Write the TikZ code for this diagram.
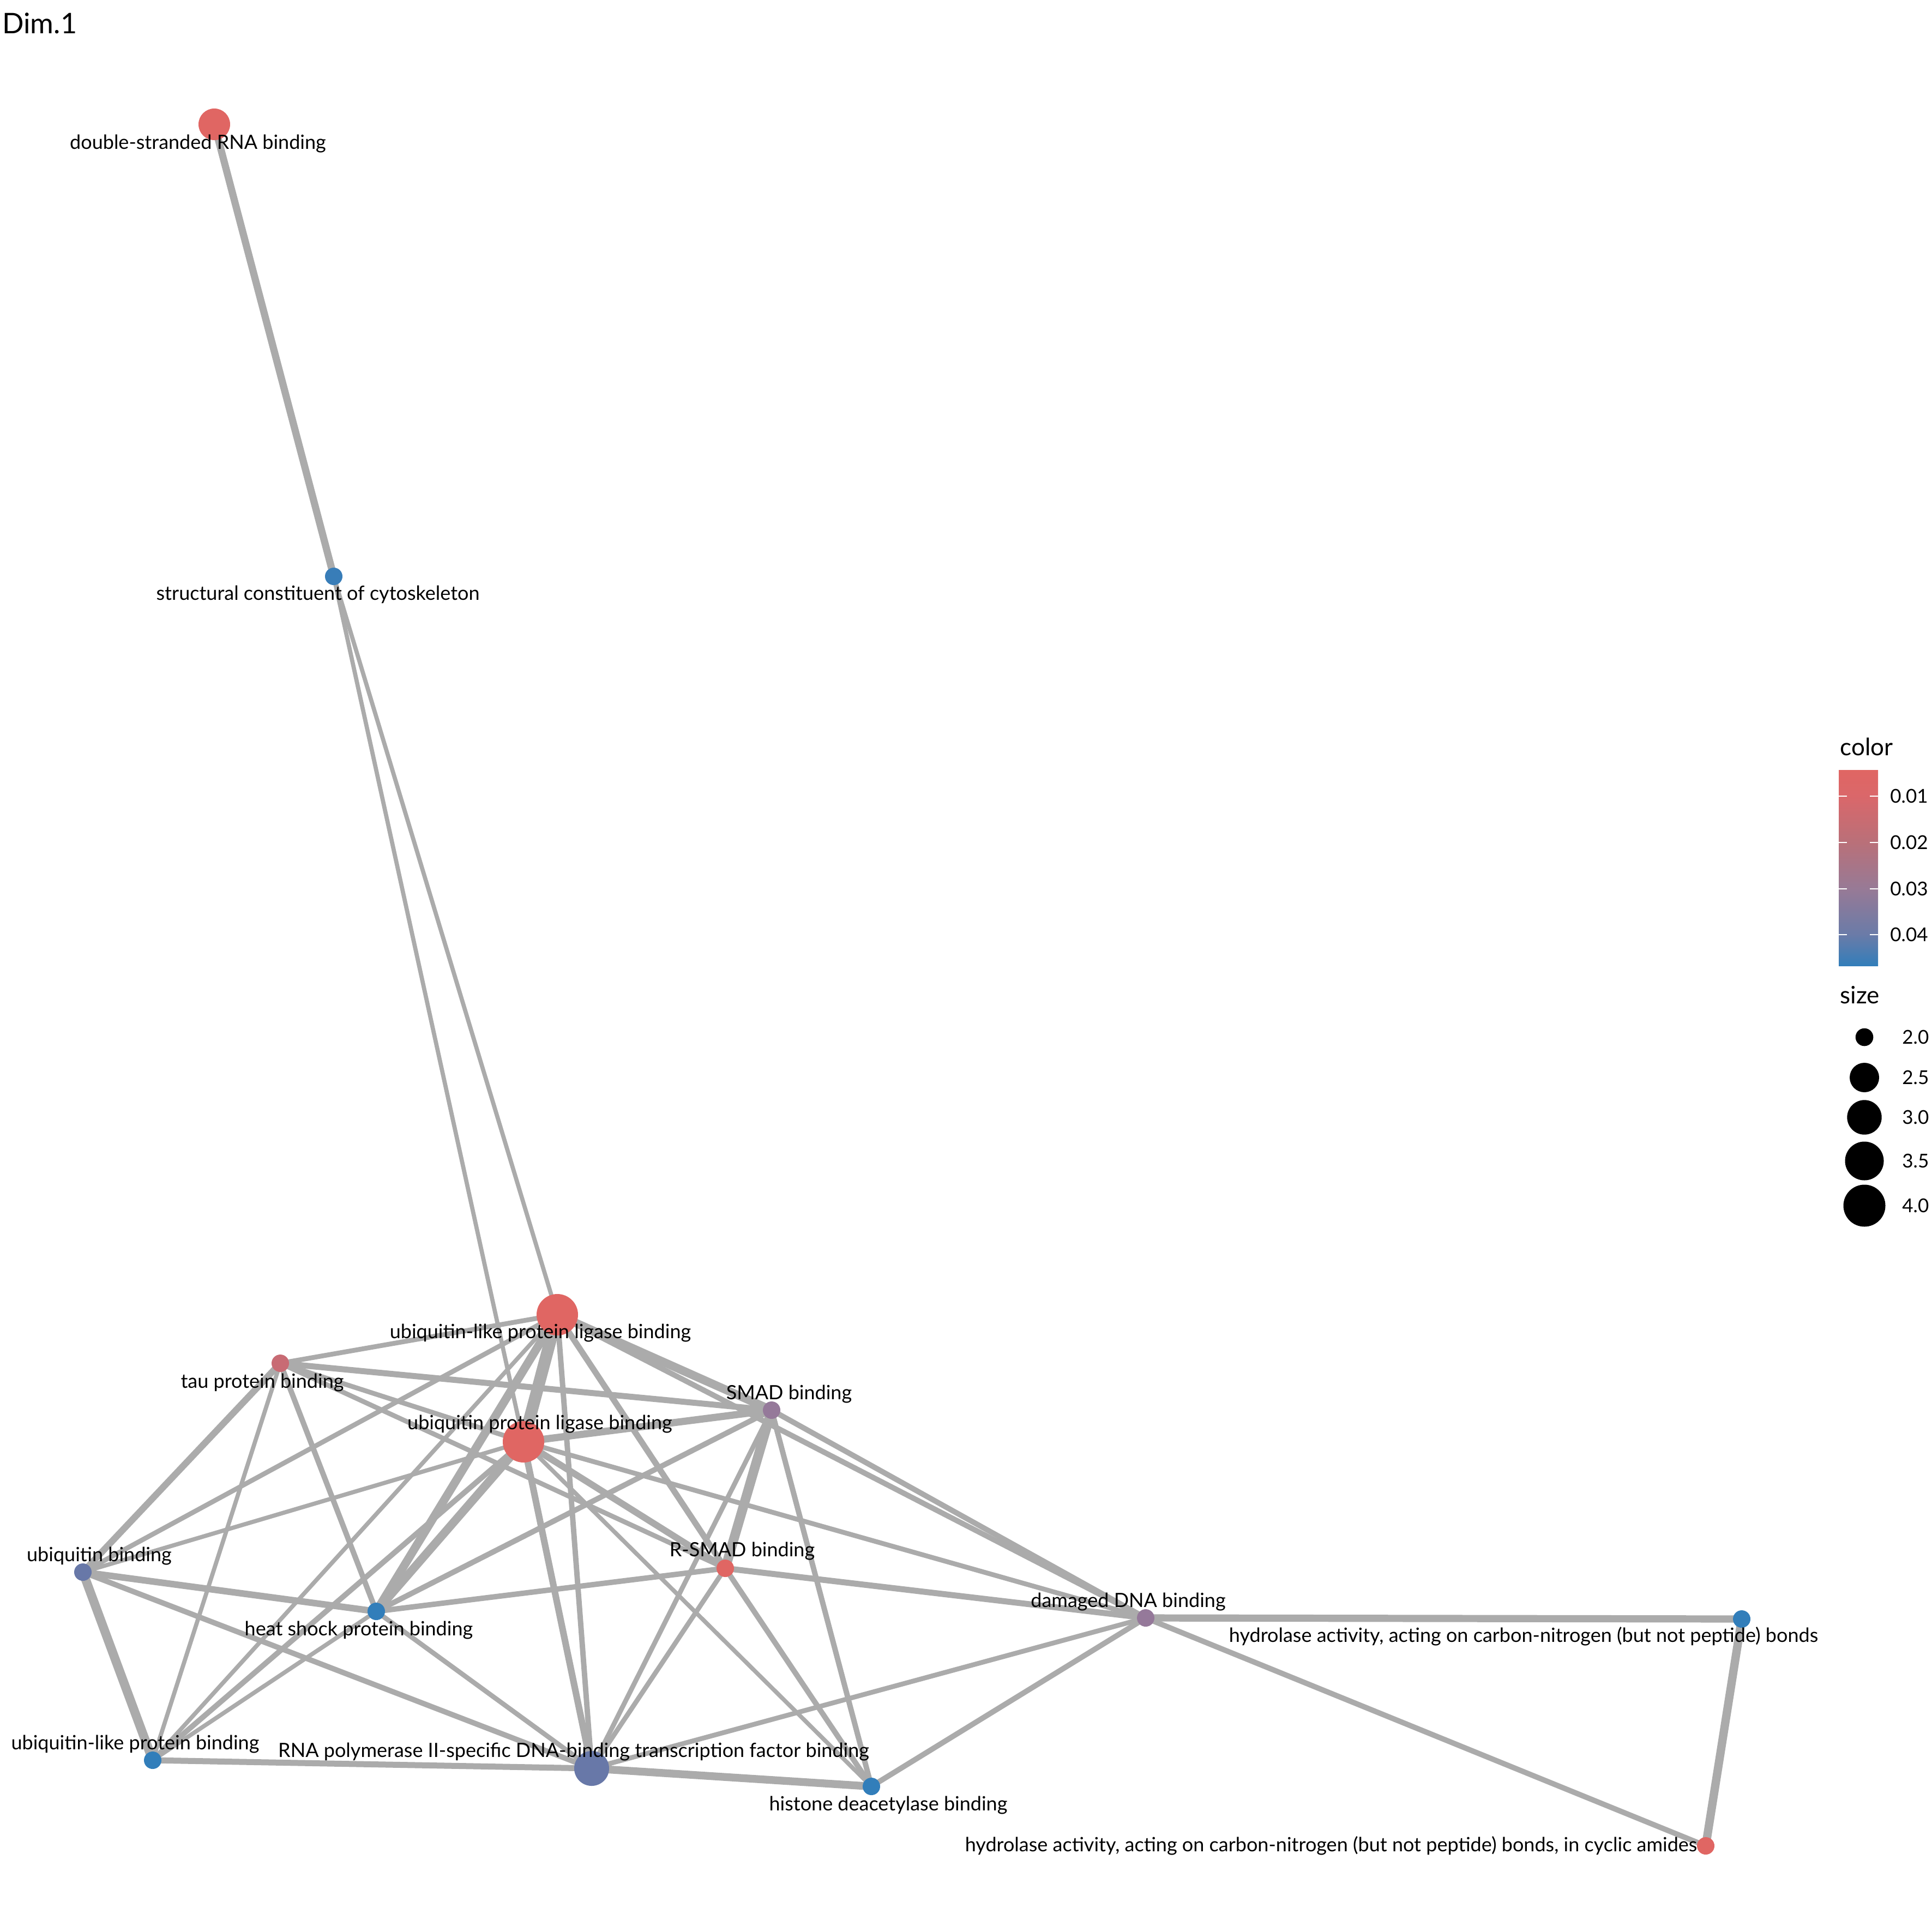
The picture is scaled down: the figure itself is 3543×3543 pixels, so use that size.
\documentclass[tikz,border=0pt]{standalone}
\usepackage{fontspec}
\setmainfont{Lato}
\definecolor{cred}{HTML}{E06663}
\definecolor{cblue}{HTML}{327EBA}
\definecolor{ctau}{HTML}{C86B74}
\definecolor{cpurp}{HTML}{95799A}
\definecolor{cslate}{HTML}{6878A8}
\definecolor{cstruct}{HTML}{387DB8}
\definecolor{edgec}{HTML}{ABABAB}
\definecolor{gA}{HTML}{6A7BA8}
\definecolor{gB}{HTML}{977A96}
\definecolor{gC}{HTML}{B97079}
\definecolor{gD}{HTML}{DA676A}
\pgfdeclarelayer{bg}
\pgfsetlayers{bg,main}
\pgfdeclareverticalshading{pbar}{100bp}{color(0bp)=(cblue); color(25bp)=(cblue); color(32.9bp)=(gA); color(44.6bp)=(gB); color(56.5bp)=(gC); color(68.3bp)=(gD); color(75bp)=(cred); color(100bp)=(cred)}
\tikzset{
  term/.style={circle, inner sep=0pt, minimum size=#1*1pt},
  lbl/.style={font=\fontsize{18}{21}\selectfont, anchor=base, inner sep=0pt},
  link/.style={draw=edgec, line width=#1*0.55pt},
  legtxt/.style={font=\fontsize{17.5}{21}\selectfont, inner sep=0pt},
  legttl/.style={font=\fontsize{22}{26}\selectfont, inner sep=0pt, anchor=base west},
  tickln/.style={draw=white, line width=1.2pt},
}
\begin{document}
\begin{tikzpicture}[x=0.5pt, y=-0.5pt]
\useasboundingbox (0,0) rectangle (3543,3543);
\node[font=\fontsize{26}{30}\selectfont, anchor=base west, inner sep=0pt] (title) at (4,62) {Dim.1};
% nodes
\node[term=29, fill=cred]    (n1)  at (393,228)   {};
\node[term=16, fill=cstruct] (n2)  at (612,1057)  {};
\node[term=38, fill=cred]    (n3)  at (1022,2411) {};
\node[term=16, fill=ctau]    (n4)  at (514,2500)  {};
\node[term=16, fill=cpurp]   (n5)  at (1415,2586) {};
\node[term=38, fill=cred]    (n6)  at (960,2644)  {};
\node[term=16, fill=cred]    (n7)  at (1330,2876) {};
\node[term=16, fill=cslate]  (n8)  at (152,2883)  {};
\node[term=16, fill=cblue]   (n9)  at (690,2955)  {};
\node[term=16, fill=cpurp]   (n10) at (2101,2967) {};
\node[term=16, fill=cblue]   (n11) at (3194,2969) {};
\node[term=16, fill=cblue]   (n12) at (280,3228)  {};
\node[term=32, fill=cslate]  (n13) at (1085,3243) {};
\node[term=16, fill=cblue]   (n14) at (1598,3276) {};
\node[term=16, fill=cred]    (n15) at (3128,3385) {};
% labels
\node[lbl] (l1)  at (363,273)   {double-stranded RNA binding};
\node[lbl] (l2)  at (583,1100)  {structural constituent of cytoskeleton};
\node[lbl] (l3)  at (991,2454)  {ubiquitin-like protein ligase binding};
\node[lbl] (l4)  at (481,2545)  {tau protein binding};
\node[lbl] (l5)  at (1447,2566) {SMAD binding};
\node[lbl] (l6)  at (990,2621)  {ubiquitin protein ligase binding};
\node[lbl] (l7)  at (1361,2854) {R-SMAD binding};
\node[lbl] (l8)  at (182,2863)  {ubiquitin binding};
\node[lbl] (l9)  at (658,2999)  {heat shock protein binding};
\node[lbl] (l10) at (2069,2947) {damaged DNA binding};
\node[lbl] (l11) at (2794,3011) {hydrolase activity, acting on carbon-nitrogen (but not peptide) bonds};
\node[lbl] (l12) at (248,3208)  {ubiquitin-like protein binding};
\node[lbl] (l13) at (1052,3222) {RNA polymerase II-specific DNA-binding transcription factor binding};
\node[lbl] (l14) at (1629,3320) {histone deacetylase binding};
\node[lbl] (l15) at (2441,3395) {hydrolase activity, acting on carbon-nitrogen (but not peptide) bonds, in cyclic amides};
% edges
\begin{pgfonlayer}{bg}
\draw[link=12] (n1.center) -- (n2.center);
\draw[link=7]  (n2.center) -- (n3.center);
\draw[link=7]  (n2.center) -- (n6.center);
\draw[link=20] (n3.center) -- (n6.center);
\draw[link=8]  (n3.center) -- (n4.center);
\draw[link=14] (n3.center) -- (n5.center);
\draw[link=9]  (n3.center) -- (n10.center);
\draw[link=10] (n3.center) -- (n7.center);
\draw[link=9]  (n3.center) -- (n13.center);
\draw[link=14] (n3.center) -- (n9.center);
\draw[link=7]  (n3.center) -- (n12.center);
\draw[link=8]  (n3.center) -- (n8.center);
\draw[link=11] (n4.center) -- (n8.center);
\draw[link=7]  (n4.center) -- (n12.center);
\draw[link=9]  (n4.center) -- (n9.center);
\draw[link=10] (n4.center) -- (n5.center);
\draw[link=8]  (n4.center) -- (n6.center);
\draw[link=8]  (n4.center) -- (n7.center);
\draw[link=12] (n6.center) -- (n5.center);
\draw[link=8]  (n6.center) -- (n10.center);
\draw[link=11] (n6.center) -- (n7.center);
\draw[link=7]  (n6.center) -- (n14.center);
\draw[link=11] (n6.center) -- (n13.center);
\draw[link=14] (n6.center) -- (n9.center);
\draw[link=9]  (n6.center) -- (n12.center);
\draw[link=7]  (n6.center) -- (n8.center);
\draw[link=16] (n5.center) -- (n7.center);
\draw[link=9]  (n5.center) -- (n9.center);
\draw[link=8]  (n5.center) -- (n13.center);
\draw[link=9]  (n5.center) -- (n14.center);
\draw[link=9]  (n5.center) -- (n10.center);
\draw[link=9]  (n7.center) -- (n9.center);
\draw[link=10] (n7.center) -- (n10.center);
\draw[link=8]  (n7.center) -- (n13.center);
\draw[link=9]  (n7.center) -- (n14.center);
\draw[link=15] (n8.center) -- (n12.center);
\draw[link=11] (n8.center) -- (n9.center);
\draw[link=9]  (n8.center) -- (n13.center);
\draw[link=7]  (n12.center) -- (n9.center);
\draw[link=10] (n12.center) -- (n13.center);
\draw[link=8]  (n9.center) -- (n13.center);
\draw[link=13] (n13.center) -- (n14.center);
\draw[link=8]  (n13.center) -- (n10.center);
\draw[link=9]  (n14.center) -- (n10.center);
\draw[link=12] (n10.center) -- (n11.center);
\draw[link=9]  (n10.center) -- (n15.center);
\draw[link=14] (n11.center) -- (n15.center);
\end{pgfonlayer}
% legend
\node[legttl] (ct) at (3374,1385) {color};
\shade[shading=pbar] (3372,1412) rectangle (3444,1771);
\foreach \yy/\tt [count=\i] in {1460/0.01,1545/0.02,1630/0.03,1714/0.04}{
  \draw[tickln] (3372,\yy) -- (3387,\yy);
  \draw[tickln] (3429,\yy) -- (3444,\yy);
  \node[legtxt, anchor=west] (ctk\i) at (3466,\yy) {\tt};
}
\node[legttl] (st) at (3374,1840) {size};
\foreach \yy/\rr/\tt [count=\i] in {1902/16.3/2.0,1976/27/2.5,2049/31.7/3.0,2129/35.5/3.5,2211/38.5/4.0}{
  \node[term=\rr, fill=black] (sc\i) at (3419,\yy) {};
  \node[legtxt, anchor=west] (sl\i) at (3488,\yy) {\tt};
}
\end{tikzpicture}
\end{document}
